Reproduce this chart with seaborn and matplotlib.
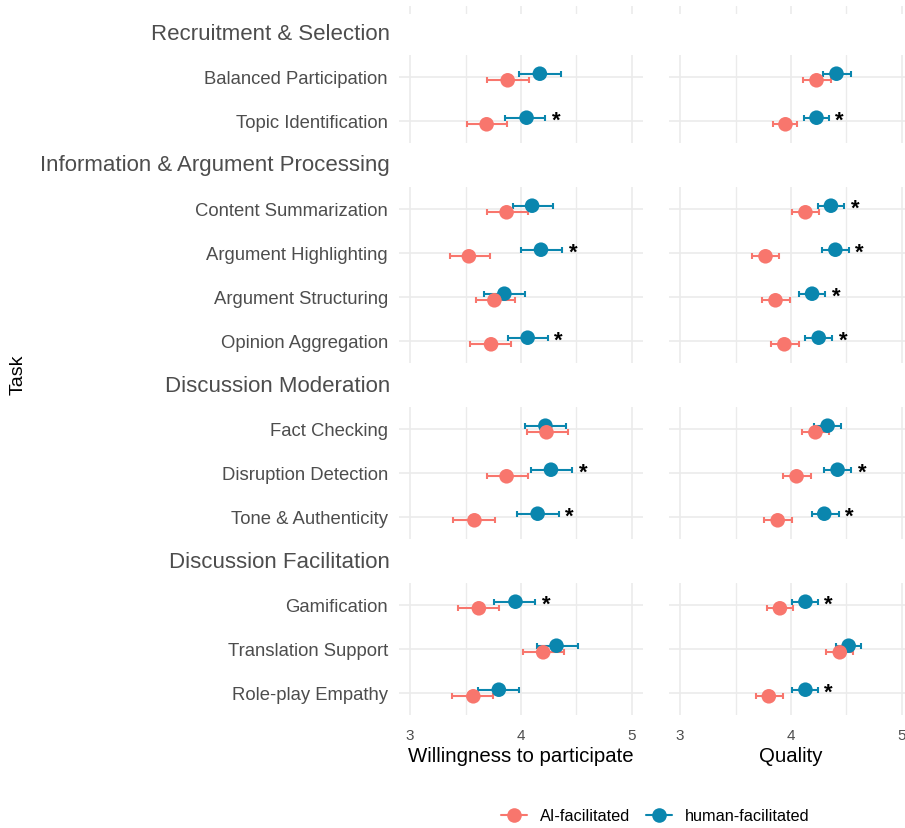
import numpy as np
import pandas as pd
import matplotlib
matplotlib.use("Agg")
import matplotlib.pyplot as plt
import seaborn as sns
from matplotlib.lines import Line2D

sns.set_theme(style="white")
plt.rcParams["font.family"] = ["Liberation Sans", "DejaVu Sans"]

# ---------------- data ----------------
groups = ["Recruitment & Selection", "Information & Argument Processing",
          "Discussion Moderation", "Discussion Facilitation"]
group_tasks = [
    ["Balanced Participation", "Topic Identification"],
    ["Content Summarization", "Argument Highlighting", "Argument Structuring", "Opinion Aggregation"],
    ["Fact Checking", "Disruption Detection", "Tone & Authenticity"],
    ["Gamification", "Translation Support", "Role-play Empathy"],
]
metrics = ["Willingness to participate", "Quality"]
conditions = ["human-facilitated", "AI-facilitated"]

will_ai_mean = [3.88, 3.69, 3.87, 3.53, 3.76, 3.73, 4.23, 3.87, 3.58, 3.62, 4.20, 3.57]
will_ai_lo   = [3.69, 3.51, 3.69, 3.36, 3.59, 3.54, 4.05, 3.69, 3.39, 3.43, 4.02, 3.38]
will_ai_hi   = [4.07, 3.87, 4.06, 3.72, 3.95, 3.91, 4.42, 4.06, 3.77, 3.80, 4.39, 3.75]
will_hu_mean = [4.17, 4.05, 4.10, 4.18, 3.85, 4.06, 4.22, 4.27, 4.15, 3.95, 4.32, 3.80]
will_hu_lo   = [3.98, 3.86, 3.93, 4.00, 3.67, 3.88, 4.04, 4.09, 3.96, 3.76, 4.14, 3.61]
will_hu_hi   = [4.36, 4.22, 4.29, 4.37, 4.04, 4.24, 4.41, 4.46, 4.34, 4.13, 4.51, 3.98]
will_sig     = [0, 1, 0, 1, 0, 1, 0, 1, 1, 1, 0, 0]

qual_ai_mean = [4.23, 3.95, 4.13, 3.77, 3.86, 3.94, 4.22, 4.05, 3.88, 3.90, 4.44, 3.80]
qual_ai_lo   = [4.11, 3.84, 4.01, 3.65, 3.74, 3.82, 4.10, 3.93, 3.76, 3.78, 4.32, 3.68]
qual_ai_hi   = [4.36, 4.05, 4.25, 3.89, 3.99, 4.07, 4.34, 4.18, 4.01, 4.02, 4.56, 3.93]
qual_hu_mean = [4.41, 4.23, 4.36, 4.40, 4.19, 4.25, 4.33, 4.42, 4.30, 4.13, 4.52, 4.13]
qual_hu_lo   = [4.29, 4.12, 4.24, 4.28, 4.07, 4.13, 4.21, 4.30, 4.19, 4.01, 4.41, 4.01]
qual_hu_hi   = [4.54, 4.34, 4.48, 4.52, 4.31, 4.37, 4.45, 4.54, 4.43, 4.24, 4.63, 4.24]
qual_sig     = [0, 1, 1, 1, 1, 1, 0, 1, 1, 1, 0, 1]

x_ticks = [3, 4, 5]
x_tick_labels = ["3", "4", "5"]

# ---------------- tidy table ----------------
rows = []
series = {
    ("Willingness to participate", "AI-facilitated"): (will_ai_mean, will_ai_lo, will_ai_hi),
    ("Willingness to participate", "human-facilitated"): (will_hu_mean, will_hu_lo, will_hu_hi),
    ("Quality", "AI-facilitated"): (qual_ai_mean, qual_ai_lo, qual_ai_hi),
    ("Quality", "human-facilitated"): (qual_hu_mean, qual_hu_lo, qual_hu_hi),
}
sig = {"Willingness to participate": will_sig, "Quality": qual_sig}
k = 0
for g, tl in zip(groups, group_tasks):
    for i, t in enumerate(tl):
        for m in metrics:
            for c in conditions:
                mean, lo, hi = series[(m, c)]
                rows.append(dict(Group=g, Task=t, idx=i, Metric=m, Condition=c,
                                 mean=mean[k], lo=lo[k], hi=hi[k], sig=sig[m][k]))
        k += 1
df = pd.DataFrame(rows)

palette = {"AI-facilitated": "#F8766D", "human-facilitated": "#0A86AE"}
dodge = {"AI-facilitated": 0.075, "human-facilitated": -0.075}
df["ypos"] = df["idx"] + df["Condition"].map(dodge)

# ---------------- layout (pixels) ----------------
W, H = 905, 829
fig = plt.figure(figsize=(W / 100, H / 100), dpi=100)
fig.patch.set_facecolor("white")

px_per_row = 44
xlim = (2.9, 5.1)
col_left_px = [399, 669]
col_w_px = 244
grid_c = "#EBEBEB"
text_c = "#4D4D4D"


def fa(x0, y0, w, h):
    return fig.add_axes([x0 / W, 1 - (y0 + h) / H, w / W, h / H])


def style(ax):
    for s in ax.spines.values():
        s.set_visible(False)
    ax.set_facecolor("white")
    ax.set_xlim(*xlim)
    ax.set_xticks(x_ticks)
    ax.set_xticks([3.5, 4.5], minor=True)
    ax.grid(which="major", axis="x", color=grid_c, lw=1.2)
    ax.grid(which="minor", axis="x", color=grid_c, lw=1.0)
    ax.tick_params(which="both", length=0)
    ax.set_axisbelow(True)


# small top fragment of a panel above
for c in range(2):
    ax = fa(col_left_px[c], 7, col_w_px, 8)
    style(ax)
    ax.set_yticks([])
    ax.set_xticklabels([])

y_cursor = 12
n_groups = len(groups)
for gi, (g, tl) in enumerate(zip(groups, group_tasks)):
    n = len(tl)
    header_y = y_cursor + px_per_row / 2
    fig.text(390 / W, 1 - header_y / H, g, ha="right", va="center",
             fontsize=16, color=text_c)
    top = y_cursor + px_per_row
    h = n * px_per_row
    for c, m in enumerate(metrics):
        ax = fa(col_left_px[c], top, col_w_px, h)
        style(ax)
        sub = df[(df.Group == g) & (df.Metric == m)]
        for cond in conditions:
            s = sub[sub.Condition == cond]
            ax.errorbar(s["mean"], s["ypos"],
                        xerr=[s["mean"] - s["lo"], s["hi"] - s["mean"]],
                        fmt="none", ecolor=palette[cond], elinewidth=1.5,
                        capsize=2.0, capthick=1.5, zorder=2)
        sub_sorted = pd.concat([sub[sub.Condition == cc] for cc in conditions])
        sns.scatterplot(data=sub_sorted, x="mean", y="ypos", hue="Condition",
                        palette=palette, s=110, linewidth=0, legend=False,
                        ax=ax, zorder=3)
        hs = sub[(sub.Condition == "human-facilitated") & (sub.sig == 1)]
        for _, r in hs.iterrows():
            ax.text(r["hi"] + 0.06, r["ypos"], "*", ha="left", va="center_baseline",
                    fontsize=16, color="black", fontweight="bold")
        ax.set_ylim(n - 0.5, -0.5)
        ax.set_yticks(range(n))
        ax.grid(which="major", axis="y", color=grid_c, lw=1.2)
        if c == 0:
            ax.set_yticklabels(tl, fontsize=13.3, color=text_c)
            ax.tick_params(axis="y", pad=8)
        else:
            ax.set_yticklabels([])
        if gi == n_groups - 1:
            ax.set_xticklabels(x_tick_labels, fontsize=11, color=text_c)
            ax.tick_params(axis="x", pad=9)
        else:
            ax.set_xticklabels([])
        ax.set_xlabel("")
        ax.set_ylabel("")
    y_cursor = top + h

fig.text((col_left_px[0] + col_w_px / 2) / W, 1 - 757 / H, metrics[0],
         ha="center", va="center", fontsize=14.7, color="black")
fig.text((col_left_px[1] + col_w_px / 2) / W, 1 - 757 / H, metrics[1],
         ha="center", va="center", fontsize=14.7, color="black")
fig.text(18 / W, 1 - 375 / H, "Task", rotation=90, ha="center", va="center",
         fontsize=14, color="black")

handles = [Line2D([0], [0], color=palette[c], marker="o", markersize=10.5,
                  lw=1.5, markeredgewidth=0) for c in ["AI-facilitated", "human-facilitated"]]
fig.legend(handles, ["AI-facilitated", "human-facilitated"], loc="center",
           bbox_to_anchor=(0.724, 1 - 817 / H), ncol=2, frameon=False,
           fontsize=11.7, handlelength=1.6, columnspacing=1.0, handletextpad=0.8,
           labelcolor="black")

fig.savefig("out.png", dpi=100, facecolor="white")
